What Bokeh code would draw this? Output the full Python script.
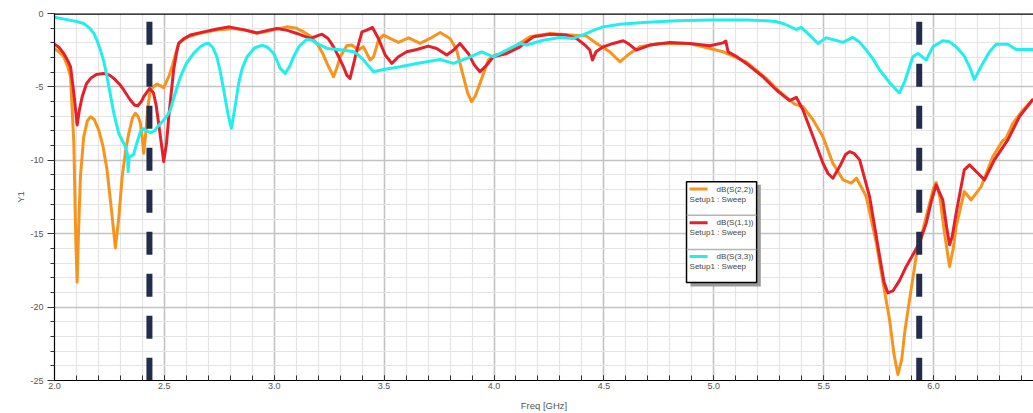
from bokeh.plotting import figure
from bokeh.models import FixedTicker, Span, Range1d
from bokeh.core.properties import value
from bokeh.embed import file_html
from bokeh.resources import INLINE

# ---------------- data ----------------
freq_s22 = [2.0, 2.02, 2.042, 2.06, 2.073, 2.088, 2.097, 2.103, 2.109, 2.118,
            2.133, 2.15, 2.164, 2.18, 2.201, 2.22, 2.239, 2.26, 2.277, 2.292,
            2.308, 2.325, 2.338, 2.355, 2.368, 2.38, 2.391, 2.4, 2.406, 2.415,
            2.425, 2.436, 2.467, 2.497, 2.52, 2.535, 2.55, 2.565, 2.585, 2.606,
            2.65, 2.694, 2.75, 2.815, 2.87, 2.921, 2.96, 3.0, 3.058, 3.1,
            3.133, 3.165, 3.194, 3.22, 3.24, 3.27, 3.285, 3.3, 3.33, 3.353,
            3.383, 3.406, 3.436, 3.452, 3.474, 3.497, 3.527, 3.565, 3.611, 3.664,
            3.709, 3.755, 3.8, 3.83, 3.861, 3.88, 3.898, 3.915, 3.936, 3.974,
            4.005, 4.058, 4.11, 4.164, 4.255, 4.345, 4.421, 4.467, 4.527, 4.573,
            4.618, 4.664, 4.755, 4.891, 4.982, 5.042, 5.148, 5.239, 5.3, 5.368,
            5.406, 5.452, 5.497, 5.542, 5.588, 5.626, 5.65, 5.694, 5.74, 5.77,
            5.8, 5.82, 5.838, 5.855, 5.87, 5.891, 5.921, 5.967, 6.0, 6.012,
            6.03, 6.05, 6.073, 6.09, 6.103, 6.14, 6.171, 6.217, 6.27, 6.315,
            6.33, 6.361, 6.4, 6.45]
db_s22 = [-2.4, -2.6, -2.95, -3.6, -4.31, -8.84, -15.5, -18.3, -15.0, -11.1,
          -8.39, -7.3, -7.03, -7.2, -7.93, -9.0, -10.65, -13.5, -15.97, -14.0,
          -11.1, -9.2, -8.16, -7.1, -6.8, -7.0, -7.48, -8.6, -9.52, -8.2,
          -6.4, -5.15, -4.8, -5.05, -4.3, -3.63, -2.8, -2.04, -1.8, -1.6,
          -1.4, -1.25, -1.1, -1.02, -1.15, -1.35, -1.25, -1.1, -0.91, -1.0,
          -1.25, -1.55, -2.04, -2.7, -3.4, -4.31, -3.7, -2.95, -2.2, -2.15,
          -2.49, -2.27, -3.17, -2.95, -1.82, -1.47, -1.7, -1.97, -1.66, -2.04,
          -1.7, -1.29, -1.7, -2.49, -4.31, -5.4, -6.01, -5.6, -4.76, -3.17,
          -2.83, -2.68, -2.1, -1.59, -1.36, -1.47, -1.54, -2.04, -2.61, -3.29,
          -2.72, -2.27, -2.04, -2.04, -2.38, -2.61, -3.29, -4.42, -5.33, -6.17,
          -6.35, -7.25, -8.39, -10.2, -11.33, -11.56, -11.22, -12.47, -15.64, -18.3,
          -20.85, -23.2, -24.59, -23.6, -21.6, -19.49, -16.55, -13.83, -11.9, -11.51,
          -12.6, -14.96, -17.23, -16.0, -14.51, -12.13, -12.69, -11.79, -9.75, -8.66,
          -8.5, -7.48, -6.7, -5.89]

freq_s11 = [2.0, 2.02, 2.042, 2.06, 2.073, 2.088, 2.103, 2.113, 2.126, 2.145,
            2.164, 2.19, 2.224, 2.25, 2.27, 2.295, 2.315, 2.345, 2.365, 2.379,
            2.395, 2.406, 2.433, 2.45, 2.462, 2.482, 2.497, 2.51, 2.52, 2.532,
            2.542, 2.555, 2.565, 2.59, 2.618, 2.679, 2.74, 2.792, 2.86, 2.921,
            2.97, 3.012, 3.06, 3.103, 3.164, 3.217, 3.245, 3.27, 3.295, 3.315,
            3.33, 3.345, 3.36, 3.376, 3.399, 3.421, 3.447, 3.474, 3.505, 3.535,
            3.565, 3.603, 3.649, 3.701, 3.739, 3.785, 3.815, 3.845, 3.883, 3.91,
            3.936, 3.967, 3.997, 4.058, 4.118, 4.179, 4.255, 4.33, 4.376, 4.414,
            4.436, 4.448, 4.464, 4.497, 4.542, 4.588, 4.61, 4.648, 4.709, 4.8,
            4.891, 4.982, 5.042, 5.055, 5.065, 5.1, 5.148, 5.224, 5.285, 5.345,
            5.376, 5.406, 5.452, 5.497, 5.52, 5.542, 5.573, 5.6, 5.618, 5.64,
            5.664, 5.709, 5.755, 5.775, 5.792, 5.815, 5.845, 5.876, 5.936, 5.967,
            5.99, 6.012, 6.042, 6.06, 6.073, 6.085, 6.103, 6.14, 6.164, 6.202,
            6.232, 6.277, 6.338, 6.391, 6.45]
db_s11 = [-2.1, -2.3, -2.72, -3.2, -3.63, -5.44, -7.59, -6.6, -5.67, -4.8,
          -4.42, -4.15, -4.08, -4.2, -4.42, -4.8, -5.21, -5.89, -6.25, -6.28,
          -6.0, -5.67, -5.1, -5.4, -6.2, -8.39, -10.09, -8.8, -7.03, -5.3,
          -3.85, -2.7, -2.04, -1.7, -1.47, -1.25, -1.05, -0.91, -1.1, -1.32,
          -1.15, -1.02, -1.15, -1.36, -1.7, -1.41, -1.7, -2.27, -3.0, -3.63,
          -4.2, -4.42, -3.5, -2.49, -1.25, -1.13, -0.95, -1.7, -2.83, -3.4,
          -2.95, -2.61, -2.45, -2.22, -2.38, -2.83, -2.5, -2.04, -2.72, -3.5,
          -3.97, -3.51, -2.95, -2.72, -2.27, -1.59, -1.41, -1.47, -1.7, -2.15,
          -2.49, -3.17, -2.61, -2.27, -2.04, -1.86, -2.04, -2.49, -2.15, -1.97,
          -2.04, -2.2, -2.0, -1.88, -2.61, -2.9, -3.4, -4.31, -5.21, -5.94,
          -5.71, -6.57, -8.39, -10.2, -10.9, -11.22, -10.43, -9.6, -9.41, -9.55,
          -9.97, -12.47, -16.55, -18.3, -19.03, -18.9, -18.2, -17.23, -15.64, -14.28,
          -12.8, -11.67, -12.69, -14.6, -15.75, -15.2, -13.6, -10.65, -10.31, -10.88,
          -11.33, -9.97, -8.61, -7.03, -5.89]

freq_s33 = [2.0, 2.05, 2.1, 2.133, 2.16, 2.179, 2.195, 2.209, 2.225, 2.239,
            2.255, 2.27, 2.292, 2.31, 2.323, 2.332, 2.335, 2.34, 2.36, 2.375,
            2.391, 2.406, 2.42, 2.436, 2.455, 2.47, 2.497, 2.515, 2.527, 2.55,
            2.573, 2.6, 2.633, 2.665, 2.69, 2.701, 2.72, 2.739, 2.755, 2.77,
            2.79, 2.805, 2.82, 2.838, 2.855, 2.876, 2.91, 2.944, 2.97, 2.997,
            3.015, 3.027, 3.05, 3.07, 3.088, 3.115, 3.148, 3.17, 3.194, 3.24,
            3.315, 3.361, 3.385, 3.406, 3.43, 3.452, 3.497, 3.573, 3.649, 3.694,
            3.755, 3.815, 3.876, 3.944, 3.997, 4.058, 4.118, 4.148, 4.224, 4.3,
            4.361, 4.421, 4.46, 4.497, 4.573, 4.679, 4.83, 4.982, 5.15, 5.239,
            5.28, 5.315, 5.376, 5.398, 5.444, 5.474, 5.512, 5.55, 5.588, 5.633,
            5.66, 5.694, 5.725, 5.755, 5.8, 5.83, 5.845, 5.87, 5.906, 5.929,
            5.967, 5.997, 6.042, 6.07, 6.103, 6.14, 6.164, 6.186, 6.224, 6.255,
            6.285, 6.338, 6.376, 6.45]
db_s33 = [-0.25, -0.4, -0.55, -0.68, -1.0, -1.36, -1.9, -2.49, -3.3, -4.31,
          -5.6, -6.8, -8.16, -8.7, -9.07, -9.6, -10.77, -9.8, -9.6, -8.8,
          -8.05, -7.85, -8.0, -8.11, -8.0, -7.7, -7.25, -6.9, -6.57, -5.4,
          -4.31, -3.4, -2.72, -2.25, -2.04, -2.04, -2.3, -2.95, -4.0, -5.21,
          -6.9, -7.82, -6.5, -4.76, -3.7, -2.95, -2.35, -2.15, -2.3, -2.72,
          -3.3, -3.74, -4.08, -3.6, -2.95, -2.2, -1.77, -1.8, -2.04, -2.38,
          -2.49, -2.61, -2.85, -3.17, -3.6, -3.97, -3.81, -3.63, -3.4, -3.29,
          -3.13, -3.4, -3.06, -2.61, -2.95, -2.49, -2.04, -2.15, -1.82, -1.63,
          -1.7, -1.36, -1.1, -0.91, -0.73, -0.61, -0.5, -0.45, -0.45, -0.5,
          -0.55, -0.68, -1.09, -0.95, -1.59, -2.04, -1.66, -1.8, -1.97, -1.63,
          -1.9, -2.49, -3.1, -3.85, -4.7, -5.2, -5.4, -4.6, -2.95, -2.72,
          -3.17, -2.27, -1.86, -1.9, -2.27, -2.9, -3.63, -4.49, -3.4, -2.6,
          -2.09, -2.09, -2.45, -2.45]

marker_freqs = [2.432, 5.935]

series_names = ["dB(S(2,2))", "dB(S(1,1))", "dB(S(3,3))"]
series_sub = "Setup1 : Sweep"
series_colors = ["#F7941D", "#E4202A", "#22EEEE"]

x_major_ticks = [2.0, 2.5, 3.0, 3.5, 4.0, 4.5, 5.0, 5.5, 6.0]
x_tick_labels = ["2.0", "2.5", "3.0", "3.5", "4.0", "4.5", "5.0", "5.5", "6.0"]
x_minor_ticks = [round(2.0 + 0.1 * i, 1) for i in range(45)]
y_major_ticks = [0, -5, -10, -15, -20, -25]
y_tick_labels = ["0", "-5", "-10", "-15", "-20", "-25"]
y_minor_ticks = [-i for i in range(26)]

FONT = "Liberation Sans"
TXT = "#555555"

p = figure(width=1033, height=413, x_range=Range1d(2.0, 6.455), y_range=Range1d(-25, 0),
           output_backend="svg", toolbar_location=None,
           min_border_left=54, min_border_right=0, min_border_top=13, min_border_bottom=32)
p.background_fill_color = "white"
p.border_fill_color = "white"
p.outline_line_color = None

p.xaxis.ticker = FixedTicker(ticks=x_major_ticks, minor_ticks=x_minor_ticks)
p.yaxis.ticker = FixedTicker(ticks=y_major_ticks, minor_ticks=y_minor_ticks)
p.xaxis.major_label_overrides = dict(zip(x_major_ticks, x_tick_labels))
p.yaxis.major_label_overrides = dict(zip(y_major_ticks, y_tick_labels))

for ax in (p.xaxis, p.yaxis):
    ax.axis_line_color = "black"
    ax.axis_line_width = 1.2
    ax.major_tick_line_color = "#333333"
    ax.minor_tick_line_color = "#333333"
    ax.major_label_text_font = FONT
    ax.major_label_text_font_size = "9px"
    ax.major_label_text_color = TXT
    ax.axis_label_text_font = FONT
    ax.axis_label_text_font_size = "9.5px"
    ax.axis_label_text_font_style = "normal"
    ax.axis_label_text_color = TXT

p.xaxis.axis_label = "Freq [GHz]"
p.yaxis.axis_label = "Y1"
p.xaxis.axis_label_standoff = 8
p.yaxis.axis_label_standoff = 1
p.xaxis.major_tick_in = 5
p.xaxis.major_tick_out = 0
p.xaxis.minor_tick_in = 5
p.xaxis.minor_tick_out = 0
p.xaxis.major_label_standoff = 2
p.yaxis.major_tick_in = 0
p.yaxis.major_tick_out = 7
p.yaxis.minor_tick_in = 0
p.yaxis.minor_tick_out = 4
p.yaxis.major_label_standoff = 4

for g in (p.xgrid, p.ygrid):
    g.grid_line_color = "#c2c2c2"
    g.grid_line_width = 1.5
    g.minor_grid_line_color = "#e4e4e4"
    g.minor_grid_line_width = 1.2

# top frame line
p.add_layout(Span(location=0, dimension="width", line_color="black", line_width=2.5))

# curves
for fx, fy, col in ((freq_s22, db_s22, series_colors[0]),
                    (freq_s11, db_s11, series_colors[1]),
                    (freq_s33, db_s33, series_colors[2])):
    p.line(fx, fy, line_color=col, line_width=3, line_join="round", line_cap="round")

# dashed markers
p.segment(x0=marker_freqs, y0=[-0.57] * len(marker_freqs), x1=marker_freqs, y1=[-25] * len(marker_freqs),
          line_color="#232D4B", line_width=6, line_dash="23 19", line_cap="butt")

# legend (drawn manually)
p.quad(left=[4.894], right=[5.214], top=[-11.66], bottom=[-18.6], fill_color="#9a9a9a", line_color=None)
p.quad(left=[4.876], right=[5.195], top=[-11.46], bottom=[-18.32], fill_color="white",
       line_color="black", line_width=1.5)
sep_y = [-13.75, -16.08]
p.segment(x0=[4.877] * 2, y0=sep_y, x1=[5.194] * 2, y1=sep_y, line_color="#b5b5b5", line_width=1.5)
row_y = [-11.96, -14.25, -16.56]
sub_y = [-12.64, -14.93, -17.24]
p.segment(x0=[4.890] * 3, y0=row_y, x1=[4.972] * 3, y1=row_y, line_color=series_colors, line_width=3)
p.text(x=[5.013] * 3, y=row_y, text=series_names, text_font=value(FONT), text_font_size=value("8px"),
       text_color="#444444", text_baseline="middle", text_align="left")
p.text(x=[4.890] * 3, y=sub_y, text=[series_sub] * 3, text_font=value(FONT), text_font_size=value("8px"),
       text_color="#444444", text_baseline="middle", text_align="left")

open("out.html", "w").write(file_html(p, INLINE))
